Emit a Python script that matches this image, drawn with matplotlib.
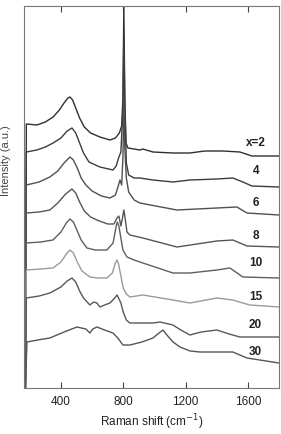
import matplotlib
matplotlib.use("Agg")
import matplotlib.pyplot as plt

plt.rcParams['font.family'] = ['Liberation Sans', 'DejaVu Sans']

# Raman spectra, stacked (arbitrary units, offset already included)
x_2 = [172, 178, 246, 300, 350, 390, 420, 445, 458, 475, 495, 520, 550, 590, 650, 715, 750, 775, 790, 798, 804, 810, 818, 830, 870, 907, 926, 991, 1119, 1228, 1324, 1440, 1549, 1626, 1800]
y_2 = [0, 264, 263, 266, 271, 278, 285, 290, 291, 288, 280, 270, 261, 255, 251, 248, 250, 255, 262, 290, 382, 290, 245, 240, 239, 238, 239, 236, 235, 235, 237, 237, 236, 232, 232]

x_4 = [172, 178, 246, 300, 350, 400, 440, 471, 495, 520, 545, 580, 650, 734, 755, 770, 785, 798, 804, 811, 820, 835, 870, 907, 991, 1119, 1228, 1401, 1504, 1568, 1626, 1800]
y_4 = [0, 236, 238, 241, 245, 250, 257, 260, 255, 245, 235, 226, 221, 218, 222, 230, 236, 278, 353, 278, 225, 213, 210, 210, 208, 206, 208, 209, 210, 206, 202, 201]

x_6 = [172, 178, 260, 329, 380, 420, 458, 480, 505, 530, 560, 600, 660, 715, 750, 770, 779, 790, 798, 804, 810, 820, 835, 870, 907, 1145, 1401, 1530, 1594, 1800]
y_6 = [0, 203, 206, 211, 217, 225, 231, 228, 220, 210, 203, 197, 192, 190, 193, 203, 208, 203, 230, 288, 240, 210, 196, 188, 185, 178, 180, 181, 175, 173]

x_8 = [172, 178, 260, 329, 380, 430, 471, 495, 520, 550, 590, 631, 700, 740, 760, 772, 785, 795, 804, 812, 824, 843, 926, 1145, 1401, 1504, 1594, 1800]
y_8 = [0, 175, 176, 178, 185, 194, 199, 195, 186, 177, 171, 168, 164, 164, 170, 172, 162, 170, 178, 170, 156, 153, 150, 141, 147, 148, 142, 141]

x_10 = [172, 178, 270, 349, 400, 435, 458, 480, 505, 530, 567, 620, 695, 735, 755, 762, 772, 785, 798, 824, 870, 907, 1119, 1228, 1401, 1485, 1568, 1800]
y_10 = [0, 145, 146, 148, 156, 165, 169, 166, 157, 148, 140, 138, 138, 145, 162, 166, 162, 150, 138, 131, 128, 126, 115, 115, 118, 120, 111, 110]

x_15 = [172, 178, 270, 349, 400, 435, 458, 480, 505, 535, 586, 640, 695, 730, 750, 760, 770, 785, 800, 820, 843, 926, 1119, 1228, 1401, 1504, 1568, 1613, 1800]
y_15 = [0, 118, 119, 120, 126, 134, 138, 135, 126, 117, 111, 110, 110, 115, 125, 128, 124, 112, 100, 94, 91, 93, 88, 85, 90, 88, 85, 83, 81]

x_20 = [172, 178, 260, 329, 400, 440, 471, 495, 520, 545, 586, 610, 631, 650, 680, 715, 745, 760, 770, 785, 800, 820, 843, 991, 1036, 1119, 1170, 1228, 1300, 1401, 1480, 1549, 1800]
y_20 = [0, 90, 92, 95, 101, 107, 110, 106, 97, 90, 83, 86, 85, 81, 83, 85, 90, 93, 90, 85, 76, 68, 65, 65, 66, 63, 58, 53, 56, 58, 54, 51, 51]

x_30 = [172, 182, 250, 329, 420, 503, 560, 586, 605, 631, 680, 734, 765, 798, 843, 920, 991, 1030, 1055, 1080, 1120, 1164, 1230, 1292, 1504, 1594, 1800]
y_30 = [0, 46, 48, 50, 56, 61, 59, 55, 59, 61, 58, 55, 50, 43, 43, 46, 50, 55, 58, 53, 46, 41, 37, 36, 36, 30, 25]

labels = ["x=2", "4", "6", "8", "10", "15", "20", "30"]
label_y = [245, 217, 185, 152, 125, 91, 63, 36]
colors = ["#303030", "#3c3c3c", "#505050", "#555555", "#5e5e5e", "#9a9a9a", "#585858", "#555555"]

fig = plt.figure(figsize=(2.81, 4.34), dpi=100)
ax = fig.add_axes([24/281, 1 - 388/434, 255/281, 382/434])

series = [(x_2, y_2), (x_4, y_4), (x_6, y_6), (x_8, y_8),
          (x_10, y_10), (x_15, y_15), (x_20, y_20), (x_30, y_30)]
for (xs, ys), c in zip(series, colors):
    ax.plot(xs, ys, color=c, lw=1.0)

for lab, ly in zip(labels, label_y):
    ax.text(1650, ly, lab, ha='center', va='center', fontsize=8.5,
            fontweight='bold', color='#222222')

ax.set_xlim(163, 1800)
ax.set_ylim(0, 382)
ax.set_xticks([400, 800, 1200, 1600])
ax.set_yticks([])
ax.tick_params(axis='x', direction='in', top=True, length=4, width=0.8,
               color='#444444', labelsize=8.5, pad=6, labelcolor='#222222')
for s in ax.spines.values():
    s.set_color('#777777')
    s.set_linewidth(0.8)

ax.set_xlabel("Raman shift (cm$^{-1}$)", fontsize=8.5, color='#222222', labelpad=3)
fig.text(0.022, 0.63, "Intensity (a.u.)", rotation=90, ha='center', va='center',
         fontsize=8, color='#444444')

fig.savefig("out.png", dpi=100)
